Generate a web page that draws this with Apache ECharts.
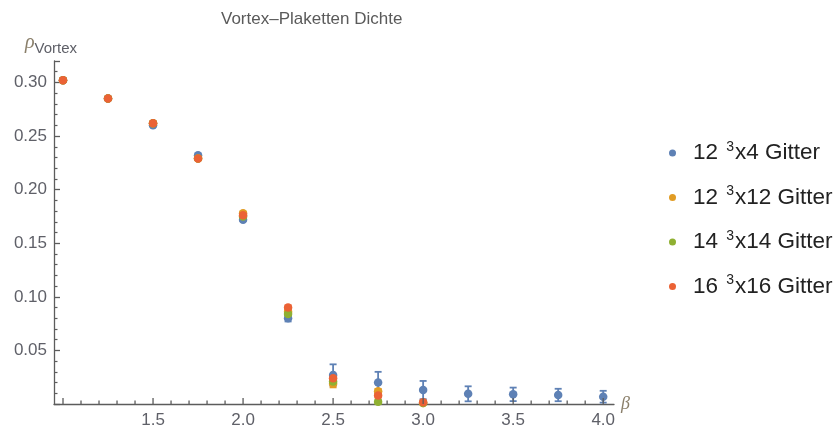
<!DOCTYPE html>
<html>
<head>
<meta charset="utf-8">
<script src="https://cdn.jsdelivr.net/npm/echarts@6/dist/echarts.min.js"></script>
<style>
  html, body { margin: 0; padding: 0; background: #fff; }
  #chart { width: 839px; height: 432px; }
</style>
</head>
<body>
<div id="chart"></div>
<script>
// Coupling values beta
const beta = [1.0, 1.25, 1.5, 1.75, 2.0, 2.25, 2.5, 2.75, 3.0, 3.25, 3.5, 3.75, 4.0];

// Vortex plaquette density per lattice size (null = no measurement)
const rho12x4  = [0.302, 0.285, 0.260, 0.232, 0.172, 0.080, 0.027, 0.020, 0.013, 0.0095, 0.009, 0.0084, 0.0068];
const err12x4  = [0.001, 0.001, 0.001, 0.001, 0.001, 0.003, 0.010, 0.010, 0.0085, 0.007, 0.0063, 0.0058, 0.0055];
const rho12x12 = [0.302, 0.285, 0.262, 0.229, 0.178, 0.086, 0.019, 0.012, 0.001, null, null, null, null];
const err12x12 = [0.001, 0.001, 0.001, 0.001, 0.001, 0.002, 0.0035, 0.002, 0.001, null, null, null, null];
const rho14x14 = [0.302, 0.285, 0.262, 0.229, 0.175, 0.084, 0.021, 0.002, 0.001, null, null, null, null];
const err14x14 = [0.001, 0.001, 0.001, 0.001, 0.001, 0.002, 0.002, 0.002, 0.001, null, null, null, null];
const rho16x16 = [0.302, 0.285, 0.262, 0.229, 0.176, 0.090, 0.024, 0.008, 0.0016, null, null, null, null];
const err16x16 = [0.001, 0.001, 0.001, 0.001, 0.001, 0.002, 0.002, 0.002, 0.001, null, null, null, null];

// Axis ticks
const xMajorTicks = [1.0, 1.5, 2.0, 2.5, 3.0, 3.5, 4.0];
const xTickLabels = [1.5, 2.0, 2.5, 3.0, 3.5, 4.0];
const xMinorTicks = [1.1, 1.2, 1.3, 1.4, 1.6, 1.7, 1.8, 1.9, 2.1, 2.2, 2.3, 2.4, 2.6, 2.7, 2.8, 2.9,
                     3.1, 3.2, 3.3, 3.4, 3.6, 3.7, 3.8, 3.9];
const yTickLabels = [0.05, 0.10, 0.15, 0.20, 0.25, 0.30];

const seriesNames = ['12 ³x4 Gitter', '12 ³x12 Gitter', '14 ³x14 Gitter', '16 ³x16 Gitter'];
const legendParts = [['12', 'x4 Gitter'], ['12', 'x12 Gitter'], ['14', 'x14 Gitter'], ['16', 'x16 Gitter']];
const colors = ['#5E81B5', '#E19C24', '#8FB032', '#EB6235'];
const values = [rho12x4, rho12x12, rho14x14, rho16x16];
const errors = [err12x4, err12x12, err14x14, err16x16];

const X_MIN = 0.95, X_MAX = 4.06, Y_MIN = 0, Y_MAX = 0.32;
const axisGray = '#5c5c5c';
const labelGray = '#5f6068';
const fontFamily = '"Liberation Sans", Arial, sans-serif';

function points(vals) {
  const out = [];
  beta.forEach((b, i) => { if (vals[i] != null) out.push([b, vals[i]]); });
  return out;
}
function errPoints(vals, errs) {
  const out = [];
  beta.forEach((b, i) => { if (vals[i] != null) out.push([b, vals[i], errs[i]]); });
  return out;
}

function errorBarSeries(idx) {
  const color = colors[idx];
  return {
    type: 'custom',
    z: 1,
    silent: true,
    encode: { x: 0, y: 1 },
    data: errPoints(values[idx], errors[idx]),
    renderItem: function (params, api) {
      const x = api.value(0), y = api.value(1), e = api.value(2);
      const top = api.coord([x, y + e]);
      const bot = api.coord([x, y - e]);
      const hw = 3.5;
      const style = { stroke: color, lineWidth: 1.8, fill: null };
      return {
        type: 'group',
        children: [
          { type: 'line', shape: { x1: top[0], y1: top[1], x2: bot[0], y2: bot[1] }, style: style },
          { type: 'line', shape: { x1: top[0] - hw, y1: top[1], x2: top[0] + hw, y2: top[1] }, style: style },
          { type: 'line', shape: { x1: bot[0] - hw, y1: bot[1], x2: bot[0] + hw, y2: bot[1] }, style: style }
        ]
      };
    }
  };
}

const scatterSeries = seriesNames.map((name, i) => ({
  name: name,
  type: 'scatter',
  z: 2,
  symbol: 'circle',
  symbolSize: 8.5,
  itemStyle: { color: colors[i], opacity: 1 },
  data: points(values[i])
}));

const chart = echarts.init(document.getElementById('chart'), null, { renderer: 'canvas' });

chart.setOption({
  animation: false,
  backgroundColor: '#ffffff',
  color: colors,
  title: {
    text: 'Vortex–Plaketten Dichte',
    left: 216,
    top: 6,
    textStyle: { fontFamily: fontFamily, fontSize: 17, fontWeight: 'normal', color: '#5a5a5a' }
  },
  legend: {
    orient: 'vertical',
    left: 664,
    top: 135,
    itemGap: 20,
    itemWidth: 7,
    itemHeight: 7,
    icon: 'circle',
    data: seriesNames,
    formatter: function (name) {
      const i = seriesNames.indexOf(name);
      return '{n|' + legendParts[i][0] + ' }{sup|3}{n|' + legendParts[i][1] + '}';
    },
    textStyle: {
      fontFamily: fontFamily,
      fontSize: 22.5,
      color: '#222222',
      padding: [0, 0, 0, 12],
      rich: {
        n: { fontFamily: fontFamily, fontSize: 22.5, color: '#222222' },
        sup: { fontFamily: fontFamily, fontSize: 14, color: '#222222', padding: [0, 1, 12, 2] }
      }
    }
  },
  grid: { left: 54, right: 225, top: 61, bottom: 28, containLabel: false },
  xAxis: {
    type: 'value',
    min: X_MIN, max: X_MAX,
    name: 'β',
    nameLocation: 'end',
    nameGap: 7,
    nameTextStyle: { fontFamily: 'Liberation Serif, serif', fontStyle: 'italic', fontSize: 18, color: '#8a7f6a', padding: [0, 0, 12, 0] },
    axisLine: { show: true, onZero: false, lineStyle: { color: axisGray, width: 1.3 } },
    axisTick: { show: false },
    axisLabel: {
      show: true, customValues: xTickLabels, margin: 8,
      fontFamily: fontFamily, fontSize: 17, color: labelGray,
      formatter: v => v.toFixed(1)
    },
    splitLine: { show: false },
    minorTick: { show: false }
  },
  yAxis: {
    type: 'value',
    min: Y_MIN, max: Y_MAX,
    interval: 0.05,
    name: '{r|ρ}{s|Vortex}',
    nameLocation: 'end',
    nameGap: 4,
    nameTextStyle: {
      align: 'center',
      padding: [0, 6, 0, 0],
      rich: {
        r: { fontFamily: 'Liberation Serif, serif', fontStyle: 'italic', fontSize: 20, color: '#8a7f6a', padding: [0, 0, 4, 0] },
        s: { fontFamily: fontFamily, fontSize: 15, color: '#5f6068', padding: [8, 0, 0, 0] }
      }
    },
    axisLine: { show: true, onZero: false, lineStyle: { color: axisGray, width: 1.3 } },
    axisTick: { show: true, inside: true, length: 6, lineStyle: { color: axisGray, width: 1.3 } },
    minorTick: { show: true, splitNumber: 5, length: 3.5, lineStyle: { color: axisGray, width: 1.2 } },
    axisLabel: {
      show: true, customValues: yTickLabels, margin: 7,
      fontFamily: fontFamily, fontSize: 17, color: labelGray,
      formatter: v => v.toFixed(2)
    },
    splitLine: { show: false }
  },
  series: [
    errorBarSeries(0), errorBarSeries(1), errorBarSeries(2), errorBarSeries(3)
  ].concat(scatterSeries)
});

// Inward x-axis tick marks, placed through the axis scale
function xTickGraphics() {
  const els = [];
  const addTick = (v, len) => {
    const p = chart.convertToPixel({ gridIndex: 0 }, [v, Y_MIN]);
    els.push({
      type: 'line',
      silent: true,
      z: 10,
      shape: { x1: p[0], y1: p[1], x2: p[0], y2: p[1] - len },
      style: { stroke: axisGray, lineWidth: 1.3 }
    });
  };
  xMajorTicks.forEach(v => addTick(v, 6));
  xMinorTicks.forEach(v => addTick(v, 3.5));
  return els;
}
chart.setOption({ graphic: { elements: xTickGraphics() } });
</script>
</body>
</html>
